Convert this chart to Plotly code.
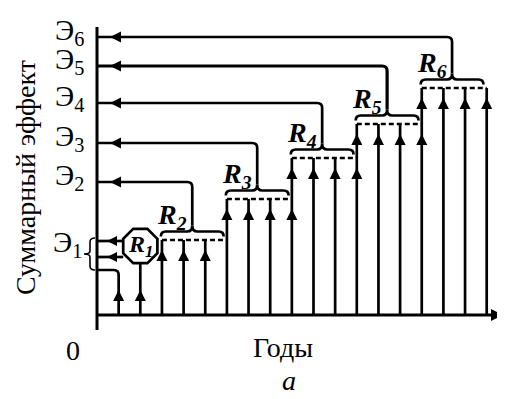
import math
import plotly.graph_objects as go

# ---------------- data ----------------
years = list(range(1, 19))
stage_labels = ["R<sub>1</sub>", "R<sub>2</sub>", "R<sub>3</sub>",
                "R<sub>4</sub>", "R<sub>5</sub>", "R<sub>6</sub>"]
stage_first_year = [1, 3, 6, 9, 12, 15]
stage_last_year = [2, 5, 9, 12, 15, 18]
stage_level = [4.5, 7.5, 11.6, 15.7, 19.1, 22.7]
effect_labels = ["Э<sub>1</sub>", "Э<sub>2</sub>", "Э<sub>3</sub>",
                 "Э<sub>4</sub>", "Э<sub>5</sub>", "Э<sub>6</sub>"]
effect_level = [6.6, 13.3, 17.2, 21.2, 24.9, 27.8]
effect1_arrow_levels = [7.4, 5.8]
r1_node_level = 6.9
x_title = "Годы"
y_title = "Суммарный эффект"
origin_label = "0"
panel_label = "а"

# ---------------- geometry ----------------
W, H = 505, 399          # browser window
PAD = 8                  # default page body margin
FW, FH = W - PAD, H - PAD
X0, SX = 97, 21.65       # page pixel of x=0, pixels per year
Y0, SY = 315, 10.0       # page pixel of y=0, pixels per unit
x_range = [-(X0 - PAD) / SX, (W - X0) / SX]
y_range = [(Y0 - H) / SY, (Y0 - PAD) / SY]


def px(p):
    return p / SX


def py(p):
    return p / SY


BLACK = "black"
FONT = "Liberation Serif"
LW = 2.7
n = len(stage_level)

fig = go.Figure()
shapes = []
annotations = []

# ---- axes ----
x_tip = px(W - 2 - X0)
fig.add_trace(go.Scatter(
    x=[0, 0, None, 0, x_tip - px(4)],
    y=[-py(15), py(Y0 - 27), None, 0, 0],
    mode="lines", line=dict(color=BLACK, width=3), hoverinfo="skip"))
fig.add_trace(go.Scatter(
    x=[x_tip], y=[0], mode="markers",
    marker=dict(symbol="arrow-right", size=12, color=BLACK), hoverinfo="skip"))

# ---- octagon node R1 ----
oct_r = 18.5
oct_cx, oct_cy = stage_first_year[0] + 1, r1_node_level
oct_pts = []
for k in range(8):
    a = math.radians(22.5 + 45 * k)
    oct_pts.append((oct_cx + px(oct_r * math.cos(a)), oct_cy + py(oct_r * math.sin(a))))
oct_path = "M " + " L ".join(f"{x:.4f},{y:.4f}" for x, y in oct_pts) + " Z"
oct_half = oct_r * math.cos(math.radians(22.5))

# ---- bars (years) ----
bar_x, bar_y = [], []
arrow_x, arrow_y = [], []
for yr in years:
    member = [i for i in range(n) if stage_first_year[i] <= yr <= stage_last_year[i]]
    top = max(stage_level[i] for i in member)
    if yr == years[0]:
        L = stage_level[0]
        shapes.append(dict(type="path", xref="x", yref="y",
                           path=f"M {yr},0 L {yr},{L - py(5)} Q {yr},{L} {yr - px(5)},{L} L 0,{L}",
                           line=dict(color=BLACK, width=LW)))
    else:
        if 0 in member:
            top = r1_node_level - py(oct_half)
        bar_x += [yr, yr, None]
        bar_y += [0, top, None]
    for i in member:
        arrow_x.append(yr)
        arrow_y.append(stage_level[i] - (py(20) if i == 0 else py(10)))

fig.add_trace(go.Scatter(x=bar_x, y=bar_y, mode="lines",
                         line=dict(color=BLACK, width=LW), hoverinfo="skip"))

# ---- dashed stage levels ----
dx, dy = [], []
brace_info = []
for i in range(1, n):
    end = stage_first_year[i + 1] if i + 1 < n else stage_last_year[i]
    dx += [stage_first_year[i], end, None]
    dy += [stage_level[i], stage_level[i], None]
    brace_info.append((i, stage_first_year[i] - 0.05, end - 0.15))
fig.add_trace(go.Scatter(x=dx, y=dy, mode="lines",
                         line=dict(color=BLACK, width=LW, dash="5px,3px"), hoverinfo="skip"))

# ---- braces + connectors to effect levels ----
rx, ry = px(5), py(5)
for i, xa, xb in brace_info:
    yb = stage_level[i] + py(8.5)
    xc = (xa + xb) / 2
    ytip = yb + py(6)
    E = effect_level[i]
    path = (f"M {xa},{yb - py(5)} Q {xa},{yb} {xa + rx},{yb} L {xc - rx},{yb} "
            f"Q {xc},{yb} {xc},{ytip} Q {xc},{yb} {xc + rx},{yb} L {xb - rx},{yb} "
            f"Q {xb},{yb} {xb},{yb - py(5)}")
    shapes.append(dict(type="path", xref="x", yref="y", path=path,
                       line=dict(color=BLACK, width=LW)))
    conn = f"M {xc},{ytip} L {xc},{E - ry} Q {xc},{E} {xc - rx},{E} L 0,{E}"
    shapes.append(dict(type="path", xref="x", yref="y", path=conn,
                       line=dict(color=BLACK, width=3.2 if i == 4 else LW)))
    annotations.append(dict(x=xc - px(20), y=yb + py(15), xref="x", yref="y",
                            text=stage_labels[i], showarrow=False,
                            xanchor="center", yanchor="middle",
                            font=dict(family=FONT, size=28, color=BLACK,
                                      weight="bold", style="italic")))
    fig.add_trace(go.Scatter(x=[px(13)], y=[E], mode="markers",
                             marker=dict(symbol="arrow-left", size=11, color=BLACK),
                             hoverinfo="skip"))

# ---- R1 outputs to axis ----
e1x, e1y = [], []
for lv in effect1_arrow_levels:
    e1x += [0, oct_cx - px(oct_half), None]
    e1y += [lv, lv, None]
fig.add_trace(go.Scatter(x=e1x, y=e1y, mode="lines",
                         line=dict(color=BLACK, width=LW), hoverinfo="skip"))
fig.add_trace(go.Scatter(x=[px(10)] * len(effect1_arrow_levels), y=effect1_arrow_levels,
                         mode="markers",
                         marker=dict(symbol="arrow-left", size=10, color=BLACK),
                         hoverinfo="skip"))

shapes.append(dict(type="path", xref="x", yref="y", path=oct_path,
                   fillcolor="white", line=dict(color=BLACK, width=LW)))
annotations.append(dict(x=oct_cx, y=oct_cy, xref="x", yref="y",
                        text=stage_labels[0], showarrow=False,
                        xanchor="center", yanchor="middle",
                        font=dict(family=FONT, size=24, color=BLACK,
                                  weight="bold", style="italic")))

# arrows on bars
fig.add_trace(go.Scatter(x=arrow_x, y=arrow_y, mode="markers",
                         marker=dict(symbol="arrow-up", size=11, color=BLACK),
                         hoverinfo="skip"))

# ---- brace "{" for Э1 ----
top_b = max(effect1_arrow_levels) + py(3)
bot_b = stage_level[0]
mid_b = (top_b + bot_b) / 2
xr_, xm_, xl_ = -px(2), -px(7), -px(13)
brace1 = (f"M {xr_},{top_b} Q {xm_},{top_b} {xm_},{top_b - py(4)} L {xm_},{mid_b + py(3)} "
          f"Q {xm_},{mid_b} {xl_},{mid_b} Q {xm_},{mid_b} {xm_},{mid_b - py(3)} "
          f"L {xm_},{bot_b + py(4)} Q {xm_},{bot_b} {xr_},{bot_b}")
shapes.append(dict(type="path", xref="x", yref="y", path=brace1,
                   line=dict(color=BLACK, width=1.6)))

# ---- effect labels ----
for i, lab in enumerate(effect_labels):
    xx = -px(13) if i == 0 else -px(11)
    annotations.append(dict(x=xx, y=effect_level[i] + py(5), xref="x", yref="y",
                            text=lab, showarrow=False, xanchor="right", yanchor="middle",
                            font=dict(family=FONT, size=29, color=BLACK)))

# ---- titles ----
annotations.append(dict(x=-px(X0 - 25), y=py(Y0 - 178), xref="x", yref="y",
                        text=y_title, textangle=-90, showarrow=False,
                        xanchor="center", yanchor="middle",
                        font=dict(family=FONT, size=28, color=BLACK)))
annotations.append(dict(x=-px(X0 - 73), y=-py(350 - Y0), xref="x", yref="y",
                        text=origin_label, showarrow=False,
                        xanchor="center", yanchor="middle",
                        font=dict(family=FONT, size=28, color=BLACK)))
annotations.append(dict(x=px(283 - X0), y=-py(347 - Y0), xref="x", yref="y",
                        text=x_title, showarrow=False,
                        xanchor="center", yanchor="middle",
                        font=dict(family=FONT, size=28, color=BLACK)))
annotations.append(dict(x=px(289 - X0), y=y_range[0] + py(1), xref="x", yref="y",
                        text=panel_label, showarrow=False,
                        xanchor="center", yanchor="bottom",
                        font=dict(family=FONT, size=28, color=BLACK, style="italic")))

fig.update_layout(
    width=FW, height=FH, autosize=False,
    margin=dict(l=0, r=0, t=0, b=0),
    paper_bgcolor="white", plot_bgcolor="white",
    showlegend=False,
    xaxis=dict(range=x_range, visible=False, fixedrange=True),
    yaxis=dict(range=y_range, visible=False, fixedrange=True),
    shapes=shapes, annotations=annotations,
)

fig.write_html("out.html")
